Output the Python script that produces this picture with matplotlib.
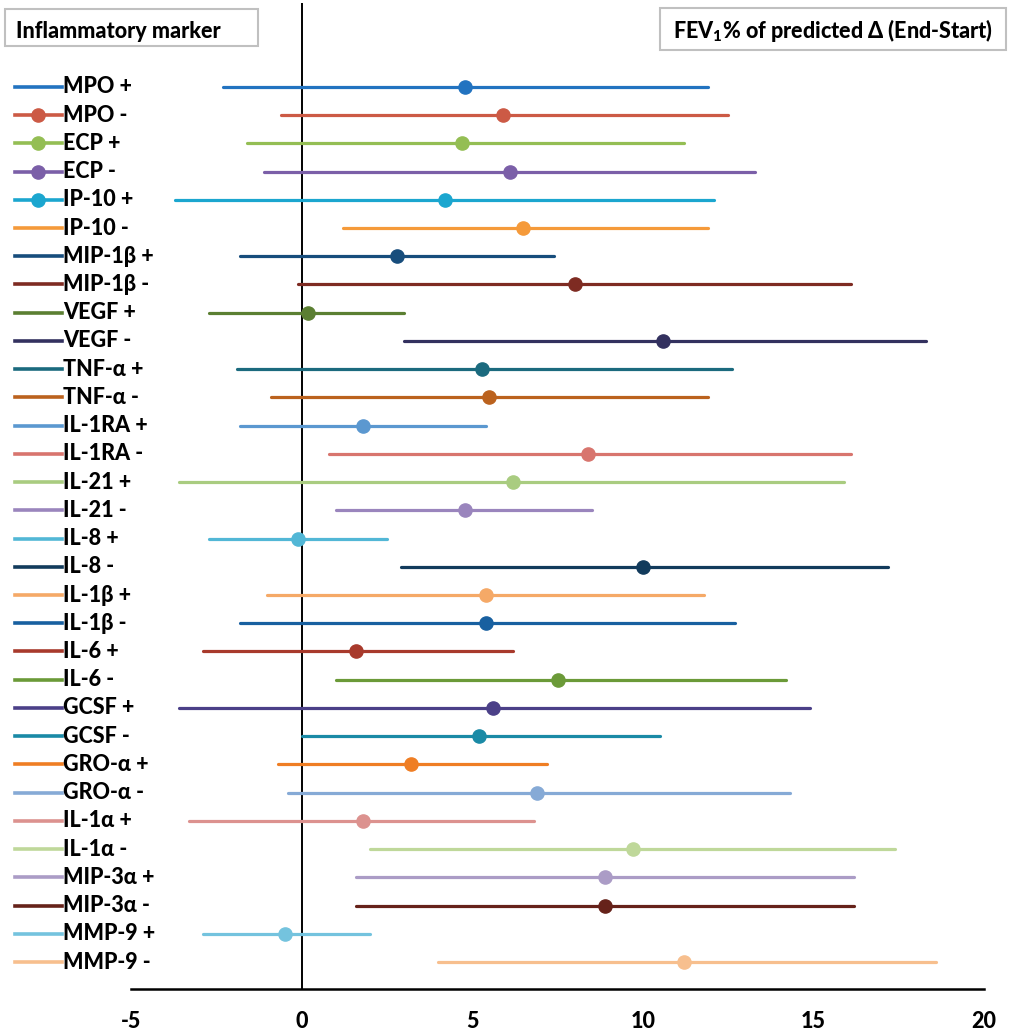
import matplotlib
matplotlib.use('Agg')
import matplotlib.pyplot as plt
import matplotlib.transforms as mtransforms
from matplotlib.patches import Rectangle

plt.rcParams['font.family'] = ['Lato', 'DejaVu Sans']
plt.rcParams['mathtext.fontset'] = 'custom'
plt.rcParams['mathtext.rm'] = 'Lato:black'
plt.rcParams['mathtext.bf'] = 'Lato:black'
plt.rcParams['axes.unicode_minus'] = False

# markers, top to bottom
markers = ['MPO +', 'MPO -', 'ECP +', 'ECP -', 'IP-10 +', 'IP-10 -',
           'MIP-1β +', 'MIP-1β -', 'VEGF +', 'VEGF -', 'TNF-α +', 'TNF-α -',
           'IL-1RA +', 'IL-1RA -', 'IL-21 +', 'IL-21 -', 'IL-8 +', 'IL-8 -',
           'IL-1β +', 'IL-1β -', 'IL-6 +', 'IL-6 -', 'GCSF +', 'GCSF -',
           'GRO-α +', 'GRO-α -', 'IL-1α +', 'IL-1α -', 'MIP-3α +', 'MIP-3α -',
           'MMP-9 +', 'MMP-9 -']
means = [4.8, 5.9, 4.7, 6.1, 4.2, 6.5, 2.8, 8.0, 0.2, 10.6, 5.3, 5.5,
         1.8, 8.4, 6.2, 4.8, -0.1, 10.0, 5.4, 5.4, 1.6, 7.5, 5.6, 5.2,
         3.2, 6.9, 1.8, 9.7, 8.9, 8.9, -0.5, 11.2]
lower = [-2.3, -0.6, -1.6, -1.1, -3.7, 1.2, -1.8, -0.1, -2.7, 3.0, -1.9, -0.9,
         -1.8, 0.8, -3.6, 1.0, -2.7, 2.9, -1.0, -1.8, -2.9, 1.0, -3.6, 0.0,
         -0.7, -0.4, -3.3, 2.0, 1.6, 1.6, -2.9, 4.0]
upper = [11.9, 12.5, 11.2, 13.3, 12.1, 11.9, 7.4, 16.1, 3.0, 18.3, 12.6, 11.9,
         5.4, 16.1, 15.9, 8.5, 2.5, 17.2, 11.8, 12.7, 6.2, 14.2, 14.9, 10.5,
         7.2, 14.3, 6.8, 17.4, 16.2, 16.2, 2.0, 18.6]
colors = ['#2273c0', '#cc5a45', '#94be54', '#7b5fa8', '#1ba6cf', '#f59a3a',
          '#174d7c', '#7e2b22', '#5b7f32', '#33315f', '#1b6a7e', '#bb621e',
          '#5b98d0', '#d8756e', '#a9cc80', '#9a85bd', '#52b7d6', '#123b5c',
          '#f5a967', '#1860a0', '#a83a2c', '#6b9a38', '#4b4088', '#1a8aa6',
          '#ef7e24', '#86aad6', '#dc928f', '#bfd89a', '#ab9cc6', '#66221a',
          '#74c3de', '#f7bf8e']
legend_dot = [False, True, True, True, True] + [False] * 27

fig = plt.figure(figsize=(10.12, 10.33), dpi=100)
ax = fig.add_axes([131 / 1012, 1 - 989 / 1033, (984 - 131) / 1012, 986 / 1033])

n = len(markers)
ys = [n - i for i in range(n)]
for y, m, lo, hi, c in zip(ys, means, lower, upper, colors):
    ax.plot([lo, hi], [y, y], color=c, lw=2.3, solid_capstyle='round', zorder=3)
    ax.plot(m, y, 'o', color=c, ms=9.5, zorder=4)

ax.axvline(0, color='black', lw=1.4, zorder=2)
ax.set_xlim(-5, 20)
ax.set_ylim(0.044, 34.97)
ax.set_xticks([-5, 0, 5, 10, 15, 20])
ax.set_yticks([])
for s in ['top', 'right', 'left']:
    ax.spines[s].set_visible(False)
ax.spines['bottom'].set_linewidth(1.8)
ax.tick_params(axis='x', length=0, pad=16, labelsize=15.5)
for lab in ax.get_xticklabels():
    lab.set_fontweight('black')

# legend drawn row by row on the left
tr = mtransforms.blended_transform_factory(fig.transFigure, ax.transData)
for y, lab, c, dot in zip(ys, markers, colors, legend_dot):
    ax.plot([15 / 1012, 62 / 1012], [y, y], color=c, lw=2.6, transform=tr, clip_on=False)
    if dot:
        ax.plot(38 / 1012, y, 'o', color=c, ms=9.5, transform=tr, clip_on=False)
    ax.text(63 / 1012, y, lab, transform=tr, fontsize=15.5, fontweight='black',
            va='center', ha='left')

# header boxes
fig.patches.append(Rectangle((5 / 1012, 1 - 46 / 1033), 253 / 1012, 37 / 1033,
                             transform=fig.transFigure, fill=False,
                             edgecolor='#c0c0c0', lw=1.5))
fig.text(16 / 1012, 1 - 32 / 1033, 'Inflammatory marker', fontsize=15.5,
         fontweight='black', va='center', ha='left')
fig.patches.append(Rectangle((660 / 1012, 1 - 50 / 1033), 346 / 1012, 42 / 1033,
                             transform=fig.transFigure, fill=False,
                             edgecolor='#c0c0c0', lw=1.5))
fig.text(833 / 1012, 1 - 30 / 1033, 'FEV$_1$% of predicted Δ (End-Start)',
         fontsize=15.5, fontweight='black', va='center', ha='center')

fig.savefig('out.png', dpi=100)
